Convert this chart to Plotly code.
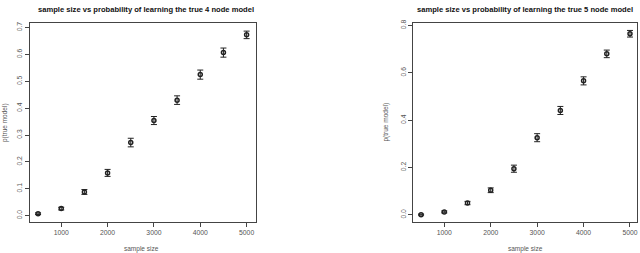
import plotly.graph_objects as go

sample_sizes = [500, 1000, 1500, 2000, 2500, 3000, 3500, 4000, 4500, 5000]

p4 = [0.007, 0.026, 0.088, 0.159, 0.272, 0.354, 0.430, 0.525, 0.607, 0.673]
err4 = [0.003, 0.005, 0.009, 0.013, 0.016, 0.015, 0.016, 0.017, 0.017, 0.014]

p5 = [0.001, 0.0125, 0.050, 0.104, 0.195, 0.326, 0.441, 0.566, 0.680, 0.765]
err5 = [0.002, 0.004, 0.007, 0.010, 0.015, 0.017, 0.017, 0.017, 0.016, 0.014]

title4 = "sample size vs probability of learning the true 4 node model"
title5 = "sample size vs probability of learning the true 5 node model"
xlabel = "sample size"
ylabel = "p(true model)"

x_ticks = [1000, 2000, 3000, 4000, 5000]
y_ticks4 = [0.0, 0.1, 0.2, 0.3, 0.4, 0.5, 0.6, 0.7]
y_ticks5 = [0.0, 0.2, 0.4, 0.6, 0.8]

W, H = 640, 253
FONT = "Liberation Sans, Arial, sans-serif"

fig = go.Figure()

def add_series(x, y, e, xa, ya):
    fig.add_trace(go.Scatter(
        x=x, y=y, mode="markers", xaxis=xa, yaxis=ya, showlegend=False,
        marker=dict(symbol="circle-open", size=4, color="#222222", line=dict(width=1.5, color="#222222")),
        error_y=dict(type="data", array=e, visible=True, color="#222222", thickness=1, width=3),
    ))

add_series(sample_sizes, p4, err4, "x", "y")
add_series(sample_sizes, p5, err5, "x2", "y2")

ydom = [1 - 221 / H, 1 - 19.5 / H]
axis_common = dict(showgrid=False, zeroline=False, showline=True, mirror=True,
                   linecolor="#444444", linewidth=1, ticks="outside", ticklen=4,
                   tickcolor="#444444", tickfont=dict(family=FONT, size=6.8, color="#555555"))

fig.update_layout(
    width=W, height=H, margin=dict(l=0, r=0, t=0, b=0),
    paper_bgcolor="white", plot_bgcolor="white",
    xaxis=dict(domain=[30 / W, 256 / W], range=[325, 5194], tickvals=x_ticks, anchor="y", **axis_common),
    yaxis=dict(domain=ydom, range=[-0.022, 0.7165], tickvals=y_ticks4,
               ticktext=[f"{v:.1f}" for v in y_ticks4], tickangle=-90, anchor="x", **axis_common),
    xaxis2=dict(domain=[414 / W, 638 / W], range=[334, 5151], tickvals=x_ticks, anchor="y2", **axis_common),
    yaxis2=dict(domain=ydom, range=[-0.028, 0.8096], tickvals=y_ticks5,
                ticktext=[f"{v:.1f}" for v in y_ticks5], tickangle=-90, anchor="x2", **axis_common),
)

ann = []
for cx, t in [(146, title4), (526, title5)]:
    ann.append(dict(x=cx / W, y=1 - 6 / H, xref="paper", yref="paper", text=f"<b>{t}</b>",
                    showarrow=False, xanchor="center", yanchor="middle",
                    font=dict(family=FONT, size=7.6, color="#111111")))
for cx in [142, 526]:
    ann.append(dict(x=cx / W, y=1 - 248.5 / H, xref="paper", yref="paper", text=xlabel,
                    showarrow=False, xanchor="center", yanchor="middle",
                    font=dict(family=FONT, size=6.5, color="#555555")))
for cx in [5, 387]:
    ann.append(dict(x=cx / W, y=1 - 120 / H, xref="paper", yref="paper", text=ylabel,
                    showarrow=False, xanchor="center", yanchor="middle", textangle=-90,
                    font=dict(family=FONT, size=6.5, color="#555555")))
fig.update_layout(annotations=ann)

fig.write_html("out.html", config={"displayModeBar": False},
               post_script="document.body.style.margin='0';document.body.style.padding='0';document.body.style.overflow='hidden';")
